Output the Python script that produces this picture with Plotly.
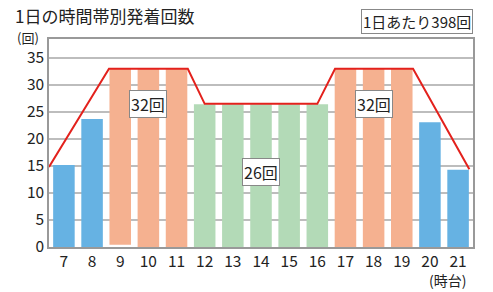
import plotly.graph_objects as go

hours = [7, 8, 9, 10, 11, 12, 13, 14, 15, 16, 17, 18, 19, 20, 21]
counts = [15.2, 23.7, 33, 33, 33, 26.4, 26.4, 26.4, 26.4, 26.4, 33, 33, 33, 23.1, 14.3]
bar_base = [0, 0, 0.4, 0, 0, 0, 0, 0, 0, 0, 0, 0, 0, 0, 0]
groups = ["b", "b", "o", "o", "o", "g", "g", "g", "g", "g", "o", "o", "o", "b", "b"]
line_x = [6.47, 8.6, 11.4, 12, 16, 16.63, 19.4, 21.4]
line_y = [14.8, 33, 33, 26.5, 26.5, 33, 33, 14.4]
labels = [(10, 26.5, "32回"), (18, 26.5, "32回"), (14, 13.9, "26回")]
title = "1日の時間帯別発着回数"
total_label = "1日あたり398回"

palette = {"b": "#66b2e3", "o": "#f5b190", "g": "#b3dab7"}
FONT = "Noto Sans CJK JP"

fig = go.Figure()
fig.add_trace(go.Bar(
    x=hours, y=[c - b for c, b in zip(counts, bar_base)], base=bar_base,
    marker=dict(color=[palette[g] for g in groups], line=dict(width=0)),
    width=0.765, hoverinfo="skip",
))
fig.add_trace(go.Scatter(
    x=line_x, y=line_y, mode="lines",
    line=dict(color="#e3211c", width=2), hoverinfo="skip",
))

for x, y, t in labels:
    fig.add_annotation(x=x, y=y, text=t, showarrow=False,
                       font=dict(family=FONT, size=16, color="#222"),
                       bgcolor="white", bordercolor="#888", borderwidth=1, borderpad=1)

fig.add_annotation(xref="paper", yref="paper", x=-0.085, y=1.115, xanchor="left", yanchor="middle",
                   text=title, showarrow=False, font=dict(family=FONT, size=17, color="#222"))
fig.add_annotation(xref="paper", yref="paper", x=1.0, y=1.082, xanchor="right", yanchor="middle",
                   text=total_label, showarrow=False, font=dict(family=FONT, size=15, color="#222"),
                   bgcolor="white", bordercolor="#888", borderwidth=1, borderpad=1)
fig.add_annotation(xref="paper", yref="paper", x=-0.05, y=1.005, xanchor="center", yanchor="middle",
                   text="(回)", showarrow=False, font=dict(family=FONT, size=13, color="#222"))
fig.add_annotation(xref="paper", yref="paper", x=0.941, y=-0.16, xanchor="center", yanchor="middle",
                   text="(時台)", showarrow=False, font=dict(family=FONT, size=14, color="#222"))

fig.update_layout(
    width=493, height=292,
    margin=dict(l=49, r=20, t=39, b=45),
    paper_bgcolor="white", plot_bgcolor="white",
    showlegend=False,
    font=dict(family=FONT, color="#222"),
)
fig.update_xaxes(range=[6.47, 21.53], tickvals=hours, ticktext=[str(h) for h in hours],
                 tickfont=dict(size=15.5), showgrid=False, zeroline=False,
                 showline=True, linecolor="#999", linewidth=1.5, mirror=True, ticks="", ticklen=0)
fig.update_yaxes(range=[0, 38.5], tickvals=list(range(0, 36, 5)),
                 tickfont=dict(size=15.5), showgrid=True, gridcolor="#bdbdbd", gridwidth=1.5,
                 zeroline=False, showline=True, linecolor="#999", linewidth=1.5, mirror=True, ticks="")

fig.write_html("out.html")
